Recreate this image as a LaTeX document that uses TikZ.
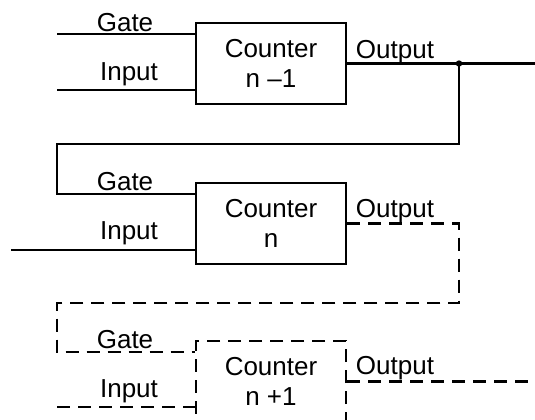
\documentclass[tikz,border=0pt]{standalone}
\usepackage{fontspec}
\setmainfont{Liberation Sans}
\tikzset{
  counter/.style={draw, line width=1.6pt, minimum width=112.5pt, minimum height=60.75pt,
    align=center, inner sep=0pt, font=\fontsize{19.5pt}{22.5pt}\selectfont},
  lbl/.style={anchor=base, inner sep=0pt, font=\fontsize{19.5pt}{22pt}\selectfont},
  wire/.style={line width=1.6pt},
  dashwire/.style={line width=1.6pt, dash pattern=on 9.75pt off 6pt}
}
\begin{document}
\begin{tikzpicture}[x=0.75pt,y=-0.75pt]
    \useasboundingbox (0,0) rectangle (535,420);

    % Counter n-1
    \node[counter] (c1) at (271,63.5) {Counter\\n –1};
    \coordinate (g1) at (57,34);
    \coordinate (i1) at (57,90);
    \coordinate (o1) at (535,63.5);
    \coordinate (j1) at (459,63.5);
    \draw[wire] (g1) -- (g1 -| c1.west);
    \draw[wire] (i1) -- (i1 -| c1.west);
    \draw[wire] (c1.east) -- (o1);
    \fill (j1) circle (3.2);
    \node[lbl] (gate1) at (125,32) {Gate};
    \node[lbl] (in1) at (129,81) {Input};
    \node[lbl] (out1) at (395,59) {Output};

    % Counter n
    \node[counter] (c2) at (271,223.5) {Counter\\n};
    \coordinate (k1) at (57,144);
    \coordinate (g2) at (57,194);
    \coordinate (i2) at (11,250);
    \draw[wire] (j1) |- (k1) -- (g2) -- (g2 -| c2.west);
    \draw[wire] (i2) -- (i2 -| c2.west);
    \node[lbl] (gate2) at (125,191) {Gate};
    \node[lbl] (in2) at (129,240) {Input};
    \node[lbl] (out2) at (395,218) {Output};

    % Counter n+1 (dashed)
    \node[counter, dashwire] (c3) at (271,381.5) {Counter\\n +1};
    \coordinate (t2) at (459,303);
    \coordinate (k2) at (57,303);
    \coordinate (g3) at (57,352);
    \coordinate (i3) at (57,407);
    \coordinate (o3) at (535,381.5);
    \draw[dashwire] (c2.east) -| (t2) -- (k2) -- (g3) -- (g3 -| c3.west);
    \draw[dashwire] (i3) -- (i3 -| c3.west);
    \draw[dashwire] (c3.east) -- (o3);
    \node[lbl] (gate3) at (125,348) {Gate};
    \node[lbl] (in3) at (129,397) {Input};
    \node[lbl] (out3) at (395,374) {Output};
\end{tikzpicture}
\end{document}
